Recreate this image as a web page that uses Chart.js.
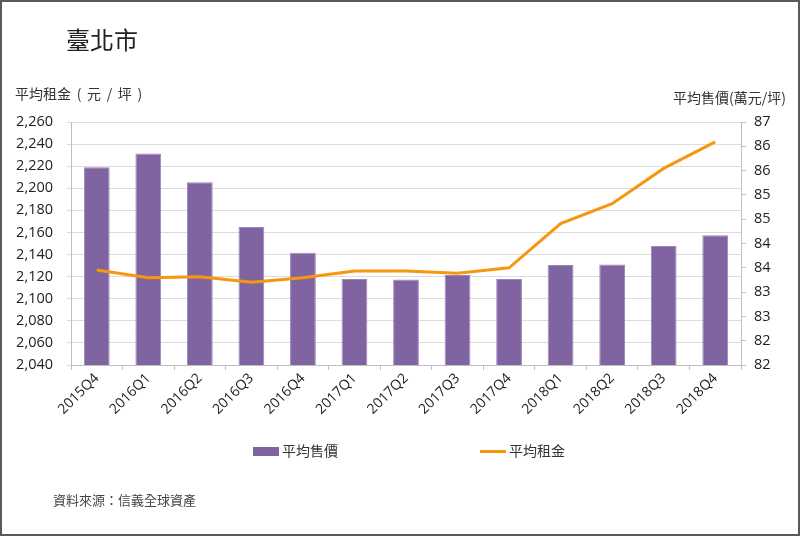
<!DOCTYPE html>
<html>
<head>
<meta charset="utf-8">
<script src="https://cdn.jsdelivr.net/npm/chart.js@4"></script>
<style>
  html, body { margin: 0; padding: 0; background: #fff; }
  #page { position: relative; width: 800px; height: 536px; box-sizing: border-box; border: 2px solid #5a5a5a; overflow: hidden; font-family: "Noto Sans CJK TC", "Noto Sans", sans-serif; }
  #chart { position: absolute; left: -2px; top: -2px; }
  .txt { position: absolute; white-space: nowrap; line-height: 1; }
  #title { left: 64px; top: 25px; font-size: 24px; color: #222; }
  #ytitle { left: 13px; top: 84px; font-size: 14px; color: #333; word-spacing: 2.5px; }
  #y1title { right: 12px; top: 88px; font-size: 14px; color: #333; }
  #source { left: 51px; top: 491px; font-size: 13px; color: #444; }
  .leg { position: absolute; font-size: 14px; color: #333; line-height: 1; white-space: nowrap; }
  .sw-bar { display: inline-block; width: 26px; height: 9px; background: #8064A2; vertical-align: middle; margin-right: 3px; position: relative; top: -1px; }
  .sw-line { display: inline-block; width: 26px; height: 3px; background: #F7960F; vertical-align: middle; margin-right: 3px; position: relative; top: -1px; }
</style>
</head>
<body>
<div id="page">
  <canvas id="chart" width="800" height="536"></canvas>
  <div class="txt" id="title">臺北市</div>
  <div class="txt" id="ytitle">平均租金 ( 元 / 坪 )</div>
  <div class="txt" id="y1title">平均售價(萬元/坪)</div>
  <div class="leg" id="leg1" style="left:251px; top:441px;"></div>
  <div class="leg" id="leg2" style="left:478px; top:441px;"></div>
  <div class="txt" id="source">資料來源：信義全球資產</div>
</div>
<script>
// ---- data ----
const categories = ['2015Q4','2016Q1','2016Q2','2016Q3','2016Q4','2017Q1','2017Q2','2017Q3','2017Q4','2018Q1','2018Q2','2018Q3','2018Q4'];
const salePriceName = '平均售價';
const rentName = '平均租金';
const salePrice = [86.07, 86.35, 85.76, 84.84, 84.31, 83.77, 83.76, 83.85, 83.77, 84.06, 84.07, 84.45, 84.67];
const rent = [2126, 2119, 2120, 2115, 2119, 2125, 2125, 2123, 2128, 2168, 2186, 2218, 2242];
const leftTickLabels = ['2,040','2,060','2,080','2,100','2,120','2,140','2,160','2,180','2,200','2,220','2,240','2,260'];
const rightTickLabels = ['82','82','83','83','84','84','85','85','86','86','87'];

document.getElementById('leg1').innerHTML = '<span class="sw-bar"></span>' + salePriceName;
document.getElementById('leg2').innerHTML = '<span class="sw-line"></span>' + rentName;

const tickFont = { family: "'Open Sans', 'Noto Sans', sans-serif", size: 14.5 };
const axisGray = '#bfbfbf';

new Chart(document.getElementById('chart'), {
  type: 'bar',
  data: {
    labels: categories,
    datasets: [
      {
        type: 'line',
        label: rentName,
        data: rent,
        yAxisID: 'y',
        borderColor: '#F7960F',
        backgroundColor: '#F7960F',
        borderWidth: 3,
        pointRadius: 0,
        tension: 0,
        order: 0
      },
      {
        type: 'bar',
        label: salePriceName,
        data: salePrice,
        yAxisID: 'y1',
        backgroundColor: '#8064A2',
        borderColor: '#9c86ba',
        borderWidth: 1,
        categoryPercentage: 1,
        barPercentage: 0.5,
        order: 1
      }
    ]
  },
  options: {
    responsive: false,
    animation: false,
    devicePixelRatio: 1,
    layout: { padding: { top: 122, left: 0, right: 0, bottom: 0 } },
    plugins: { legend: { display: false }, tooltip: { enabled: false } },
    scales: {
      x: {
        offset: true,
        grid: { display: true, offset: true, drawOnChartArea: false, drawTicks: true, tickLength: 5, color: axisGray },
        border: { color: axisGray },
        ticks: { minRotation: 45, maxRotation: 45, color: '#222', font: { family: "'Open Sans', 'Noto Sans', sans-serif", size: 14 }, padding: 0 },
        afterFit: s => { s.height = 536 - 365; }
      },
      y: {
        position: 'left',
        min: 2040, max: 2260,
        ticks: {
          stepSize: 20,
          color: '#222',
          font: tickFont,
          padding: 14,
          callback: (v, i) => leftTickLabels[i]
        },
        grid: { color: '#dcdcdc', lineWidth: 1, tickLength: 4, drawTicks: true },
        border: { color: axisGray },
        afterFit: s => { s.width = 71; }
      },
      y1: {
        position: 'right',
        min: 82, max: 87,
        ticks: {
          stepSize: 0.5,
          color: '#222',
          font: tickFont,
          padding: 8,
          callback: (v, i) => rightTickLabels[i]
        },
        grid: { drawOnChartArea: false, drawTicks: true, tickLength: 5, color: axisGray },
        border: { color: axisGray },
        afterFit: s => { s.width = 800 - 741; }
      }
    }
  }
});
</script>
</body>
</html>
